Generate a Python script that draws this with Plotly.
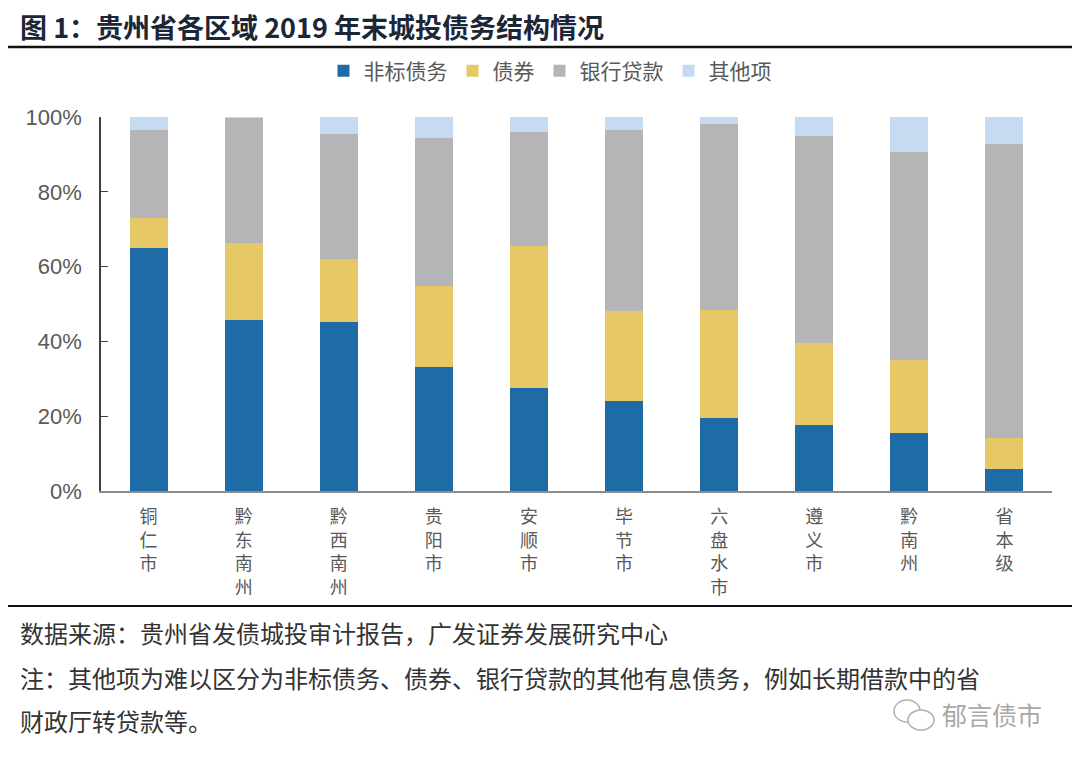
import plotly.graph_objects as go

# ---------------- data ----------------
regions = ["铜仁市", "黔东南州", "黔西南州", "贵阳市", "安顺市",
           "毕节市", "六盘水市", "遵义市", "黔南州", "省本级"]
nonstandard = [65.1, 45.6, 45.2, 33.2, 27.6, 24.0, 19.5, 17.7, 15.6, 5.8]
bonds       = [7.8, 20.7, 16.8, 21.6, 37.9, 24.1, 28.8, 22.0, 19.3, 8.3]
bank_loans  = [23.5, 33.5, 33.4, 39.6, 30.4, 48.3, 49.9, 55.1, 55.7, 78.7]
others      = [3.6, 0.2, 4.6, 5.6, 4.1, 3.6, 1.8, 5.2, 9.4, 7.2]
series_names = ["非标债务", "债券", "银行贷款", "其他项"]
y_ticks = [0, 20, 40, 60, 80, 100]

colors = ["#1F6BA6", "#E6C867", "#B5B5B7", "#C6DAF1"]

# page has an 8px body margin; figure sized to fit the window
OFF = 8
W, H = 1080 - OFF, 762 - OFF
L, R, T, B = 101 - OFF, 28, 117 - OFF, 271
PW, PH = W - L - R, H - T - B

def px(x):  # page pixel -> paper
    return (x - OFF - L) / PW

def py(y):
    return (H - B - (y - OFF)) / PH

CJK = "Noto Sans CJK SC"
tick_labels = ["<br>".join(list(r)) for r in regions]

fig = go.Figure()
for name, vals, c in zip(series_names, [nonstandard, bonds, bank_loans, others], colors):
    fig.add_trace(go.Bar(x=regions, y=[v / 100 for v in vals], name=name,
                         marker=dict(color=c, line=dict(width=0))))

fig.update_layout(
    width=W, height=H,
    barmode="stack", bargap=0.6,
    margin=dict(l=L, r=R, t=T, b=B, autoexpand=False),
    paper_bgcolor="white", plot_bgcolor="white",
    font=dict(family=CJK, color="#595959"),
    showlegend=True,
    legend=dict(orientation="h", x=px(550), xanchor="center", y=py(71), yanchor="middle",
                font=dict(size=21, color="#595959", family=CJK),
                itemwidth=30, traceorder="normal", bgcolor="rgba(0,0,0,0)"),
    xaxis=dict(tickmode="array", tickvals=regions, ticktext=tick_labels,
               tickangle=0, showline=True, linecolor="#8c8c8c", linewidth=1.5,
               ticks="", showgrid=False, ticklabelstandoff=9,
               tickfont=dict(size=18, color="#595959", family=CJK)),
    yaxis=dict(range=[0, 1], tickvals=[t / 100 for t in y_ticks],
               ticktext=[f"{t}%" for t in y_ticks],
               showline=True, linecolor="#404040", linewidth=1.5,
               ticks="inside", ticklen=7, tickcolor="#404040", showgrid=False,
               zeroline=False, ticklabelstandoff=13,
               tickfont=dict(size=22, color="#595959", family="Liberation Sans, Arial")),
)

shapes = [
    dict(type="line", xref="paper", yref="paper", x0=px(8), x1=px(1080), y0=py(47), y1=py(47),
         line=dict(color="#111111", width=2.5)),
    dict(type="line", xref="paper", yref="paper", x0=px(8), x1=px(1075), y0=py(606), y1=py(606),
         line=dict(color="#111111", width=2)),
    # watermark icon (two bubbles)
    dict(type="circle", xref="paper", yref="paper", x0=px(894), x1=px(920), y0=py(722), y1=py(700),
         line=dict(color="#b0b0b0", width=1.5)),
    dict(type="circle", xref="paper", yref="paper", x0=px(908), x1=px(934), y0=py(730), y1=py(710),
         line=dict(color="#b0b0b0", width=1.5), fillcolor="white"),
]
fig.update_layout(shapes=shapes)

annotations = [
    dict(text="<b>图 1：贵州省各区域 2019 年末城投债务结构情况</b>", x=px(18), y=py(27),
         xanchor="left", yanchor="middle", font=dict(size=27, color="#1b2636", family=CJK)),
    dict(text="数据来源：贵州省发债城投审计报告，广发证券发展研究中心", x=px(18), y=py(632),
         xanchor="left", yanchor="middle", font=dict(size=24, color="#333333", family=CJK)),
    dict(text="注：其他项为难以区分为非标债务、债券、银行贷款的其他有息债务，例如长期借款中的省",
         x=px(18), y=py(677), xanchor="left", yanchor="middle",
         font=dict(size=24, color="#333333", family=CJK)),
    dict(text="财政厅转贷款等。", x=px(18), y=py(720), xanchor="left", yanchor="middle",
         font=dict(size=24, color="#333333", family=CJK)),
    dict(text="郁言债市", x=px(940), y=py(714), xanchor="left", yanchor="middle",
         font=dict(size=25, color="#a8a8a8", family=CJK)),
]
for a in annotations:
    a.update(xref="paper", yref="paper", showarrow=False)
fig.update_layout(annotations=annotations)

fig.write_html("out.html")
